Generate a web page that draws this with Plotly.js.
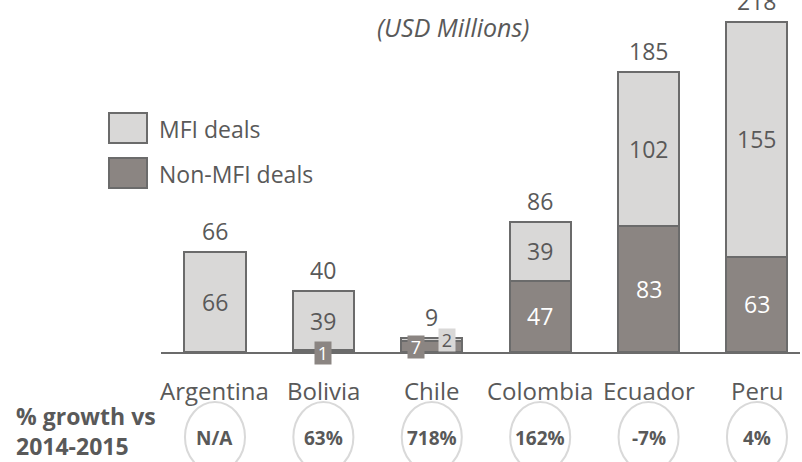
<!DOCTYPE html>
<html>
<head>
<meta charset="utf-8">
<script src="https://cdn.plot.ly/plotly-3.0.1.min.js"></script>
<style>html,body{margin:0;padding:0;background:#fff;}#chart{width:802px;height:462px;}</style>
</head>
<body>
<div id="chart"></div>
<script>
// ---- data ----
const countries = ["Argentina", "Bolivia", "Chile", "Colombia", "Ecuador", "Peru"];
const nonMfiDeals = [0, 1, 7, 47, 83, 63];
const mfiDeals = [66, 39, 2, 39, 102, 155];
const totals = [66, 40, 9, 86, 185, 218];
const growth = ["N/A", "63%", "718%", "162%", "-7%", "4%"];
const seriesNames = ["MFI deals", "Non-MFI deals"];
const subtitle = "(USD Millions)";
const growthLabel = "% growth vs<br>2014-2015";

// ---- styles ----
const DARK = "#8b8582", LIGHT = "#d9d8d7", EDGE = "#6b6b6b", TXT = "#595959";
const FONT = "Open Sans, sans-serif";
const idx = countries.map((c, i) => i);
// pixel -> paper helpers (plot area: x 161..800, y 20..352)
const px = v => (v - 161) / 639;
const py = v => (352 - v) / 332;

const traces = [
  {type: "bar", x: idx, y: nonMfiDeals, name: seriesNames[1], width: 0.563,
   marker: {color: DARK, line: {color: EDGE, width: 2}}, hoverinfo: "skip"},
  {type: "bar", x: idx, y: mfiDeals, name: seriesNames[0], width: 0.563,
   marker: {color: LIGHT, line: {color: EDGE, width: 2}}, hoverinfo: "skip"}
];

const ann = [];
const shapes = [];
// totals above bars
idx.forEach(i => {
  ann.push({x: i, y: totals[i], xref: "x", yref: "y", text: String(totals[i]), showarrow: false,
    yanchor: "bottom", yshift: 3, font: {family: FONT, size: 23, color: TXT}});
});
// segment labels
idx.forEach(i => {
  const nm = nonMfiDeals[i], m = mfiDeals[i];
  const bothSmall = nm > 0 && nm < 10 && m < 10;
  if (nm > 0) {
    if (nm >= 10) {
      ann.push({x: i, y: nm / 2, xref: "x", yref: "y", text: String(nm), showarrow: false,
        yanchor: "middle", font: {family: FONT, size: 23, color: "#ffffff"}});
    } else {
      ann.push({x: i, y: nm / 2, xref: "x", yref: "y", text: String(nm), showarrow: false,
        xshift: bothSmall ? -16 : 0, yshift: bothSmall ? 0 : -2, yanchor: "middle",
        bgcolor: DARK, borderpad: 0, width: 16, height: 22,
        font: {family: FONT, size: 18, color: "#ffffff"}});
    }
  }
  if (m >= 10) {
    ann.push({x: i, y: nm + m / 2, xref: "x", yref: "y", text: String(m), showarrow: false,
      yanchor: "middle", font: {family: FONT, size: 23, color: TXT}});
  } else if (m > 0) {
    ann.push({x: i, y: nm + m / 2, xref: "x", yref: "y", text: String(m), showarrow: false,
      xshift: bothSmall ? 15 : 0, yshift: 0, yanchor: "middle",
      bgcolor: LIGHT, borderpad: 0, width: 16, height: 22,
      font: {family: FONT, size: 18, color: TXT}});
  }
});
// category labels
idx.forEach(i => {
  ann.push({x: i, y: 0, xref: "x", yref: "paper", text: countries[i], showarrow: false,
    yanchor: "top", yshift: -20, font: {family: FONT, size: 24, color: TXT}});
});
// growth circles and labels
idx.forEach(i => {
  shapes.push({type: "circle", xref: "x", yref: "paper", x0: i - 0.277, x1: i + 0.277,
    y0: py(472), y1: py(402), line: {color: "#d9d9d9", width: 2}});
  ann.push({x: i, y: py(438), xref: "x", yref: "paper", text: "<b>" + growth[i] + "</b>", showarrow: false,
    yanchor: "middle", font: {family: FONT, size: 19, color: TXT}});
});
// growth row label
ann.push({x: px(14), y: py(431), xref: "paper", yref: "paper", text: "<b>" + growthLabel + "</b>", showarrow: false,
  align: "left", xanchor: "left", yanchor: "middle", font: {family: FONT, size: 23, color: TXT}});
// subtitle
ann.push({x: px(453), y: py(27), xref: "paper", yref: "paper", text: "<i>" + subtitle + "</i>", showarrow: false,
  xanchor: "center", yanchor: "middle", font: {family: FONT, size: 25, color: TXT}});
// legend
const legItems = [[seriesNames[0], LIGHT], [seriesNames[1], DARK]];
legItems.forEach((it, k) => {
  const top = 113 + k * 45;
  shapes.push({type: "rect", xref: "paper", yref: "paper",
    x0: px(109), x1: px(147), y0: py(top + 30), y1: py(top),
    fillcolor: it[1], line: {color: EDGE, width: 2}});
  ann.push({x: px(157), y: py(top + 16), xref: "paper", yref: "paper",
    text: it[0], showarrow: false, xanchor: "left", yanchor: "middle",
    font: {family: FONT, size: 23, color: TXT}});
});

const layout = {
  width: 802, height: 462,
  margin: {l: 161, r: 2, t: 20, b: 110},
  paper_bgcolor: "#ffffff", plot_bgcolor: "#ffffff",
  barmode: "stack", showlegend: false,
  xaxis: {range: [-0.498, 5.397], showgrid: false, zeroline: false, showticklabels: false,
    showline: true, linecolor: EDGE, linewidth: 2, ticks: "", fixedrange: true},
  yaxis: {range: [0, 219.1], visible: false, fixedrange: true},
  annotations: ann, shapes: shapes
};
Plotly.newPlot("chart", traces, layout, {staticPlot: true, displayModeBar: false});
</script>
</body>
</html>
